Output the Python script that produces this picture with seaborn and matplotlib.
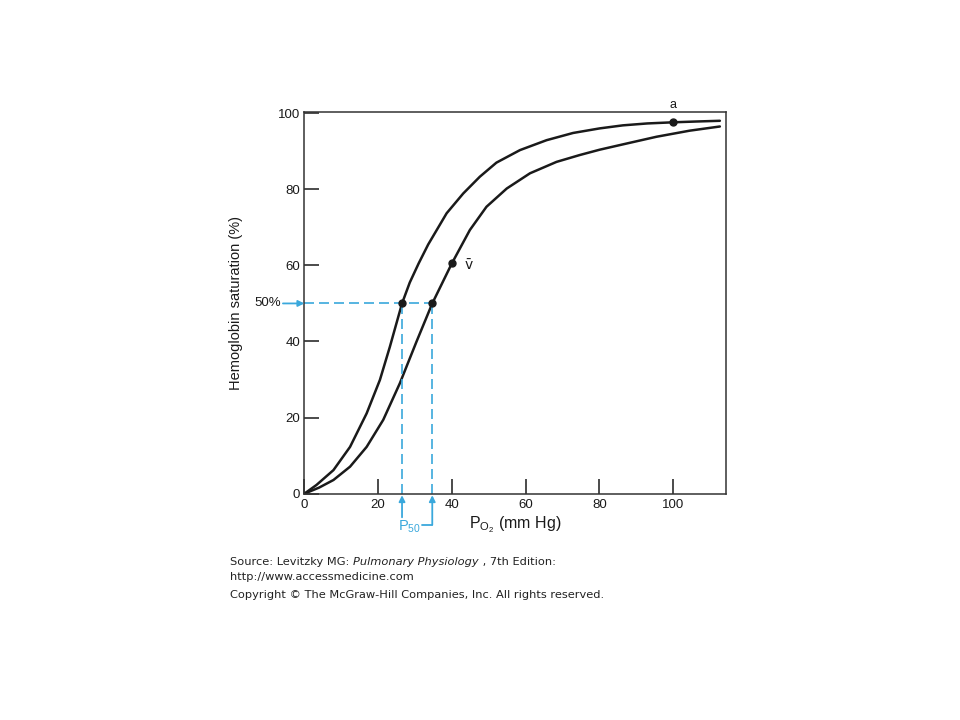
import matplotlib
matplotlib.use("Agg")
import matplotlib.pyplot as plt
import pandas as pd
import seaborn as sns

# oxygen dissociation curves
po2_left = [0, 3.3, 7.9, 12.4, 16.9, 20.5, 23.2, 26.5, 28.6, 31, 33.6, 38.6, 43.1, 47.6,
            52.1, 58.5, 65.7, 72.9, 80.1, 86.4, 93, 100, 106, 112.7]
sat_left = [0, 2.3, 6.2, 12.3, 21.1, 29.9, 38.6, 50, 55.5, 60.5, 65.5, 73.7, 78.9, 83.3,
            87.0, 90.3, 92.9, 94.8, 96.0, 96.8, 97.3, 97.6, 97.8, 98.0]

po2_right = [0, 4, 7.9, 12.4, 16.9, 21.4, 25.9, 30.4, 34.7, 40, 44.9, 49.4, 54.9, 61.2,
             68.4, 74.7, 80.1, 86.4, 95.5, 104.5, 112.7]
sat_right = [0, 1.6, 3.6, 7.1, 12.3, 19.4, 29, 39.9, 50, 60.5, 69.3, 75.4, 80.2, 84.2,
             87.2, 89.0, 90.4, 91.8, 93.8, 95.4, 96.5]

# marked points
p50_left = 26.5
p50_right = 34.7
vbar_pt = (40, 60.5)
a_pt = (100, 97.6)

xticks = [0, 20, 40, 60, 80, 100]
yticks = [0, 20, 40, 60, 80, 100]

blue = "#3aa8dc"
ink = "#1a1a1a"

sns.set_style("white")
plt.rcParams["font.family"] = ["Liberation Sans", "DejaVu Sans"]
plt.rcParams["mathtext.default"] = "regular"

fig = plt.figure(figsize=(9.6, 7.2), dpi=100)
ax = fig.add_axes([0.317, 0.3143, 0.439, 0.5301])

df_l = pd.DataFrame({"po2": po2_left, "sat": sat_left})
df_r = pd.DataFrame({"po2": po2_right, "sat": sat_right})
sns.lineplot(data=df_l, x="po2", y="sat", ax=ax, color=ink, linewidth=1.8)
sns.lineplot(data=df_r, x="po2", y="sat", ax=ax, color=ink, linewidth=1.8)

# blue dashed guides at 50 %
dash = dict(color=blue, linewidth=1.2, linestyle=(0, (6, 3)))
ax.plot([0, p50_right], [50, 50], **dash)
ax.plot([p50_left, p50_left], [0, 50], **dash)
ax.plot([p50_right, p50_right], [0, 50], **dash)

# dots
ax.plot([p50_left, p50_right, vbar_pt[0], a_pt[0]], [50, 50, vbar_pt[1], a_pt[1]],
        "o", color=ink, markersize=5, zorder=5)
ax.text(a_pt[0], 102.2, "a", ha="center", va="center", fontsize=9, color=ink)
ax.text(44.6, 60, "v\u0304", ha="center", va="center", fontsize=10, color=ink,
        family="DejaVu Sans")

ax.set_xlim(0, 114.3)
ax.set_ylim(0, 100.3)
ax.set_xticks(xticks)
ax.set_yticks(yticks)
ax.tick_params(direction="in", length=11, width=1.1, colors=ink, labelsize=9.5,
               bottom=True, left=True, top=False, right=False)
ax.tick_params(axis="y", pad=3)
for s in ax.spines.values():
    s.set_color("#333333")
    s.set_linewidth(1.1)

ax.set_xlabel("P$_{O_2}$ (mm Hg)", fontsize=11.5, color=ink, labelpad=3)
ax.set_ylabel("Hemoglobin saturation (%)", fontsize=10.5, color=ink, labelpad=25)

# arrows and labels in blue
arr = dict(arrowstyle="-|>", color=blue, lw=1.3, mutation_scale=9, shrinkA=0, shrinkB=0)
ax.annotate("", xy=(0, 50), xytext=(-5.8, 50), arrowprops=arr, annotation_clip=False)
ax.text(-6.2, 50, "50%", ha="right", va="center", fontsize=9.5, color=ink, clip_on=False)
ax.annotate("", xy=(p50_left, -0.4), xytext=(p50_left, -6.2), arrowprops=arr, annotation_clip=False)
ax.annotate("", xy=(p50_right, -0.4), xytext=(p50_right, -8.2), arrowprops=arr, annotation_clip=False)
ax.plot([31.8, p50_right], [-8.2, -8.2], color=blue, lw=1.3, clip_on=False)
ax.text(28.4, -8.8, "P$_{50}$", ha="center", va="center", fontsize=10.5, color=blue, clip_on=False)

# source footer
foot = dict(fontsize=8.2, color="#222222", family="DejaVu Sans", va="baseline")
t1 = fig.text(0.2396, 0.2153, "Source: Levitzky MG: ", **foot)
t2 = fig.text(0, 0, "Pulmonary Physiology", style="italic", **foot)
t3 = fig.text(0, 0, " , 7th Edition:", **foot)
fig.canvas.draw()
r = fig.canvas.get_renderer()
w1 = t1.get_window_extent(r).width / fig.bbox.width
t2.set_position((0.2396 + w1, 0.2153))
w2 = t2.get_window_extent(r).width / fig.bbox.width
t3.set_position((0.2396 + w1 + w2, 0.2153))
fig.text(0.2396, 0.1945, "http://www.accessmedicine.com", **foot)
fig.text(0.2396, 0.1695, "Copyright \u00a9 The McGraw-Hill Companies, Inc. All rights reserved.", **foot)

fig.savefig("out.png", dpi=100, facecolor="white")
